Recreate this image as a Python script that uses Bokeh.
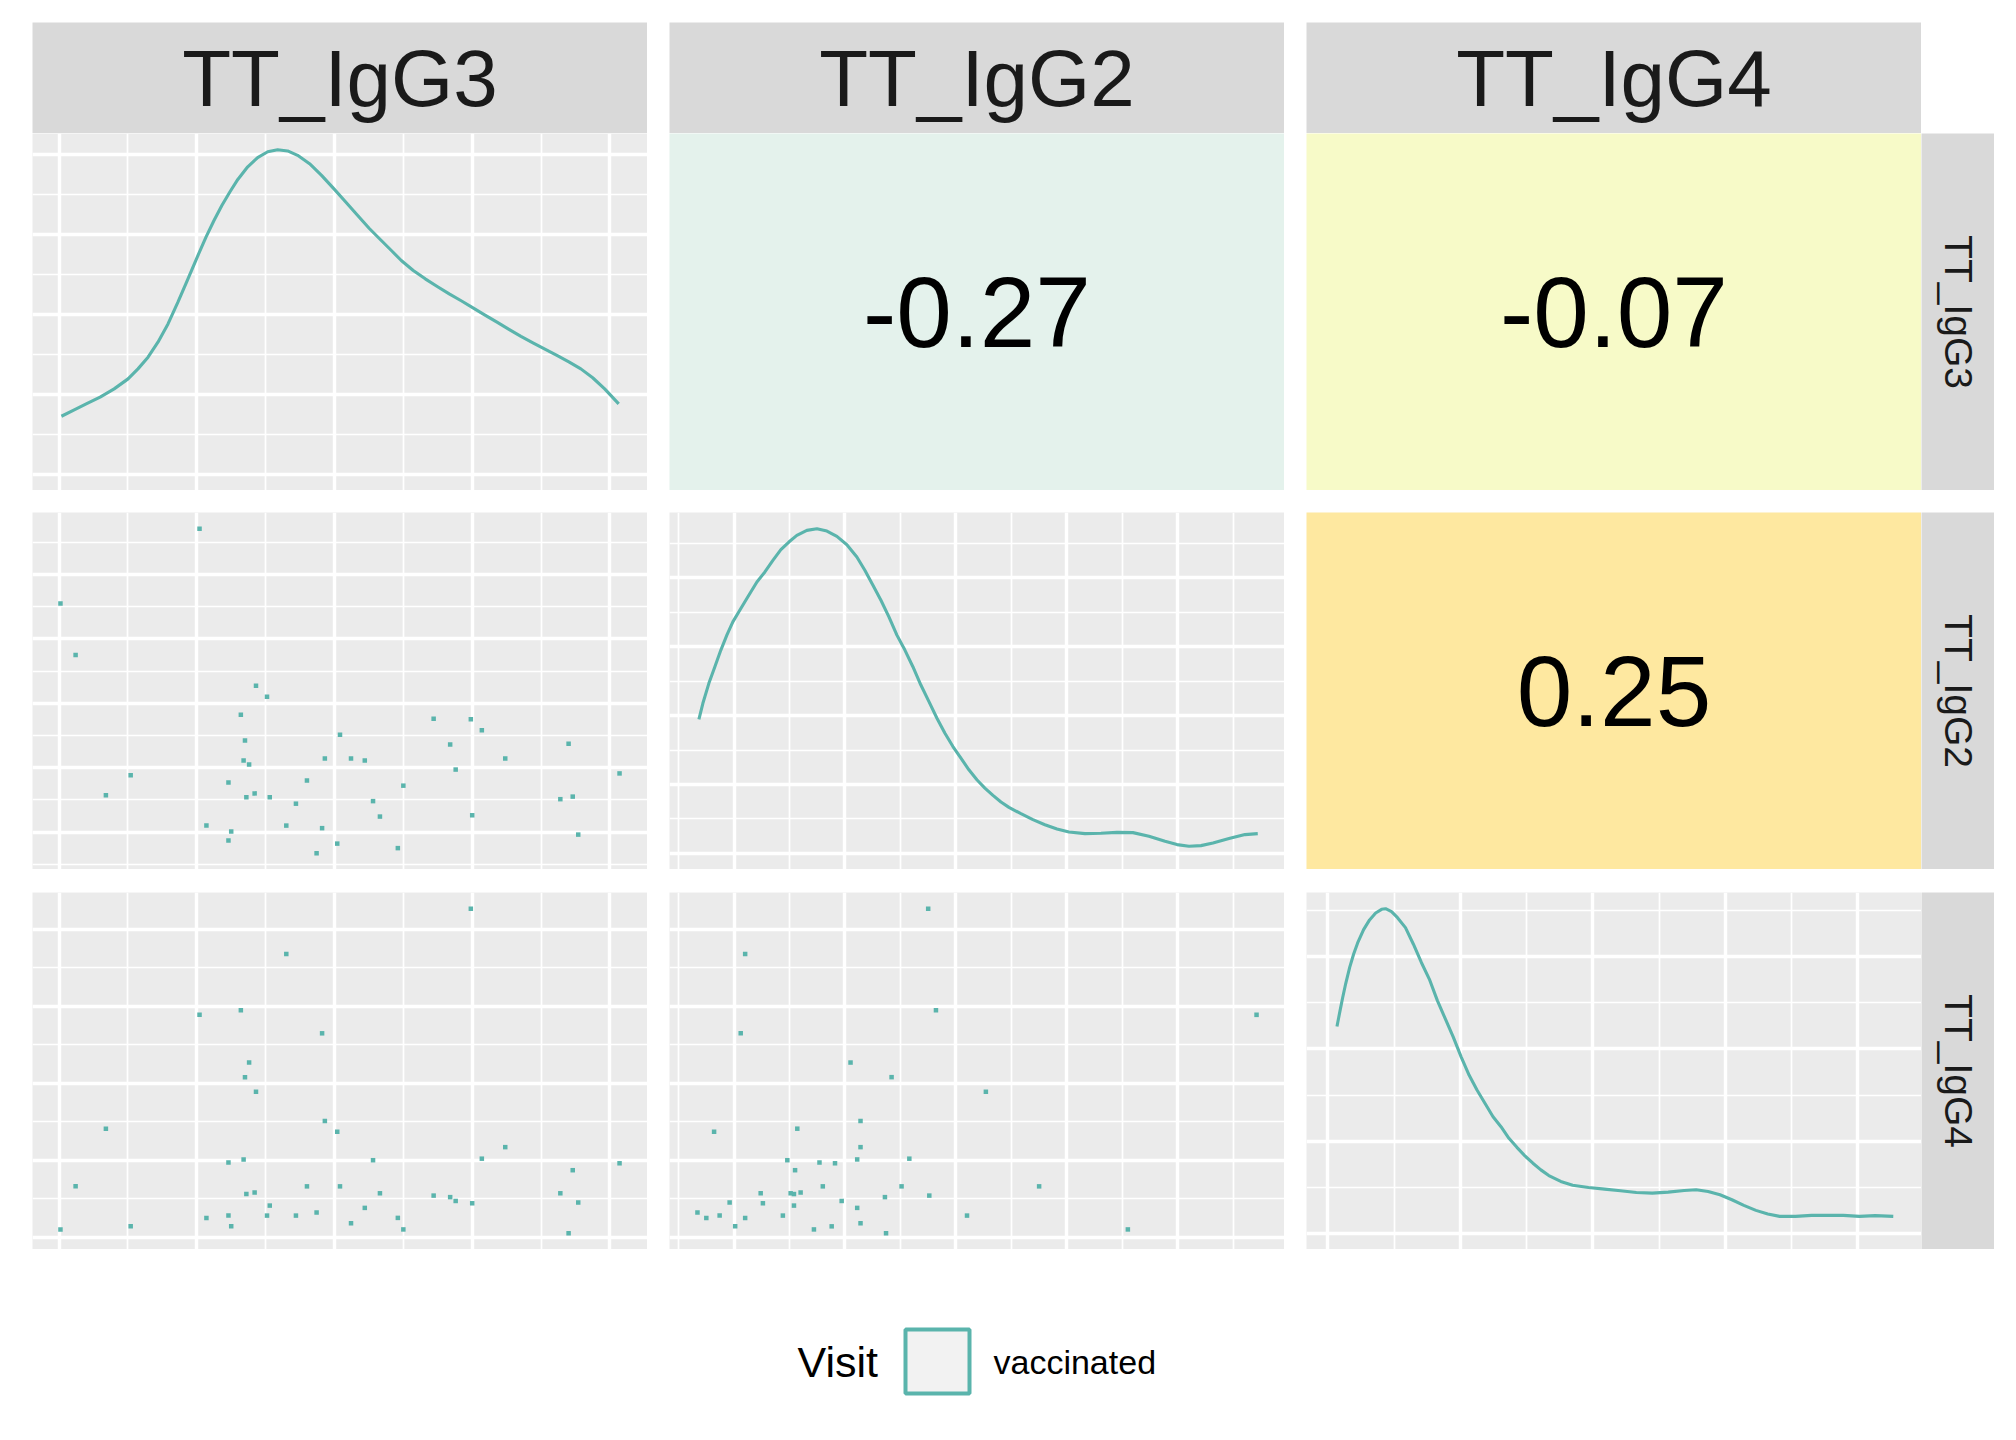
import math
from bokeh.plotting import figure
from bokeh.layouts import column, row
from bokeh.models import Spacer, Range1d, FixedTicker, ColumnDataSource
from bokeh.core.properties import value
from bokeh.embed import file_html
from bokeh.resources import INLINE

# ---------------- data ----------------
variables = ["TT_IgG3", "TT_IgG2", "TT_IgG4"]
legend_title = "Visit"
group_label = "vaccinated"

tt_igg3 = [2.02, 1.01, 1.12, 2.43, 2.51, 2.32, 3.72, 3.99, 4.07, 3.04, 2.35,
           3.84, 4.70, 2.93, 3.12, 3.22, 4.24, 2.34, 2.38, 3.88, 1.52, 5.07,
           2.23, 2.80, 3.50, 1.34, 2.42, 2.36, 2.53, 4.64, 4.73, 2.72, 3.28,
           3.33, 4.00, 2.07, 2.65, 2.25, 2.91, 4.77, 2.23, 3.02, 3.46, 2.87]
tt_igg2 = [5.71, 4.55, 3.75, 3.27, 3.10, 2.82, 2.76, 2.75, 2.58, 2.51, 2.42,
           2.36, 2.37, 2.14, 2.14, 2.11, 2.14, 2.11, 2.05, 1.97, 1.88, 1.91,
           1.77, 1.80, 1.72, 1.57, 1.60, 1.54, 1.54, 1.51, 1.55, 1.44, 1.48,
           1.24, 1.26, 1.10, 1.10, 1.01, 1.06, 0.96, 0.87, 0.82, 0.75, 0.67]
tt_igg4 = [3.89, 1.10, 1.66, 2.89, 1.28, 3.95, 1.54, 5.27, 2.02, 1.66, 3.08,
           1.52, 1.05, 2.51, 1.18, 1.38, 2.17, 2.01, 3.27, 1.47, 1.14, 1.96,
           1.97, 1.66, 1.10, 2.41, 1.58, 1.56, 1.41, 1.57, 1.87, 1.28, 2.00,
           1.57, 1.44, 1.25, 4.68, 1.14, 3.65, 1.45, 1.28, 2.37, 1.25, 1.32]

# density curves on the diagonal
dens_igg3_x = [1.017, 1.110, 1.197, 1.298, 1.400, 1.501, 1.573, 1.646, 1.718, 1.791,
               1.863, 1.936, 2.008, 2.066, 2.124, 2.182, 2.240, 2.298, 2.370, 2.442,
               2.515, 2.587, 2.660, 2.732, 2.819, 2.906, 2.993, 3.080, 3.167, 3.253,
               3.340, 3.413, 3.485, 3.572, 3.659, 3.746, 3.833, 3.920, 4.006, 4.093,
               4.180, 4.267, 4.354, 4.441, 4.528, 4.615, 4.702, 4.789, 4.875, 4.962, 5.064]
dens_igg3_y = [0.0725, 0.0804, 0.0879, 0.0963, 0.1067, 0.1192, 0.1317, 0.1463, 0.1650, 0.1879,
               0.2150, 0.2442, 0.2733, 0.2959, 0.3168, 0.3359, 0.3527, 0.3684, 0.3842, 0.3957,
               0.4030, 0.4055, 0.4040, 0.3985, 0.3880, 0.3735, 0.3572, 0.3404, 0.3236, 0.3071,
               0.2921, 0.2796, 0.2671, 0.2546, 0.2442, 0.2346, 0.2254, 0.2168, 0.2079, 0.1989,
               0.1900, 0.1810, 0.1723, 0.1642, 0.1565, 0.1485, 0.1405, 0.1317, 0.1206, 0.1067, 0.0879]

dens_igg2_x = [0.683, 0.719, 0.773, 0.827, 0.881, 0.935, 0.989, 1.061, 1.133, 1.206,
               1.278, 1.350, 1.422, 1.494, 1.566, 1.656, 1.747, 1.837, 1.927, 2.017,
               2.107, 2.179, 2.252, 2.324, 2.396, 2.468, 2.540, 2.612, 2.684, 2.757,
               2.829, 2.901, 2.973, 3.045, 3.117, 3.189, 3.261, 3.334, 3.406, 3.478,
               3.586, 3.694, 3.802, 3.911, 4.019, 4.163, 4.308, 4.452, 4.596, 4.740,
               4.885, 4.993, 5.101, 5.209, 5.317, 5.462, 5.606, 5.721]
dens_igg2_y = [0.1947, 0.2179, 0.2469, 0.2710, 0.2952, 0.3169, 0.3362, 0.3556, 0.3749, 0.3942,
               0.4087, 0.4256, 0.4411, 0.4522, 0.4618, 0.4691, 0.4715, 0.4681, 0.4604, 0.4483,
               0.4304, 0.4111, 0.3894, 0.3676, 0.3435, 0.3169, 0.2952, 0.2710, 0.2444, 0.2203,
               0.1961, 0.1744, 0.1551, 0.1382, 0.1213, 0.1068, 0.0947, 0.0841, 0.0744, 0.0667,
               0.0575, 0.0488, 0.0415, 0.0353, 0.0309, 0.0285, 0.0290, 0.0304, 0.0300, 0.0246,
               0.0174, 0.0126, 0.0101, 0.0111, 0.0150, 0.0213, 0.0271, 0.0285]

dens_igg4_x = [1.069, 1.090, 1.111, 1.135, 1.165, 1.195, 1.225, 1.270, 1.315, 1.361,
               1.406, 1.436, 1.481, 1.526, 1.586, 1.646, 1.706, 1.766, 1.827, 1.887,
               1.947, 2.007, 2.067, 2.127, 2.187, 2.247, 2.307, 2.367, 2.427, 2.488,
               2.548, 2.608, 2.668, 2.758, 2.848, 2.968, 3.089, 3.209, 3.329, 3.449,
               3.569, 3.690, 3.780, 3.870, 3.960, 4.050, 4.140, 4.231, 4.321, 4.411,
               4.531, 4.651, 4.772, 4.892, 5.012, 5.132, 5.268]
dens_igg4_y = [0.4486, 0.4800, 0.5100, 0.5420, 0.5770, 0.6060, 0.6300, 0.6590, 0.6800, 0.6950,
               0.7030, 0.7043, 0.6978, 0.6849, 0.6633, 0.6273, 0.5877, 0.5517, 0.5049, 0.4652,
               0.4256, 0.3824, 0.3428, 0.3104, 0.2816, 0.2528, 0.2312, 0.2060, 0.1865, 0.1678,
               0.1520, 0.1376, 0.1253, 0.1124, 0.1044, 0.0994, 0.0958, 0.0922, 0.0886, 0.0871,
               0.0893, 0.0929, 0.0944, 0.0907, 0.0835, 0.0727, 0.0605, 0.0497, 0.0418, 0.0367,
               0.0367, 0.0389, 0.0389, 0.0389, 0.0367, 0.0382, 0.0367]

# correlations shown in the upper panels
cor_igg3_igg2 = -0.27
cor_igg3_igg4 = -0.07
cor_igg2_igg4 = 0.25

# grid breaks
value_major = [1, 2, 3, 4, 5]
value_minor = [0.5, 1.5, 2.5, 3.5, 4.5, 5.5]
dens_major_01 = [0.0, 0.1, 0.2, 0.3, 0.4]
dens_minor_01 = [0.05, 0.15, 0.25, 0.35, 0.45]
dens_major_02 = [0.0, 0.2, 0.4, 0.6]
dens_minor_02 = [0.1, 0.3, 0.5, 0.7]

# ---------------- styling ----------------
PANEL_W, PANEL_H = 615, 357
GAP_X = 22
STRIP_H, STRIP_W = 111, 73
FONT = "Liberation Sans"
TEAL = "#5AB4AC"
PANEL_BG = "#EBEBEB"
STRIP_BG = "#D9D9D9"
COR_BG = {-0.27: "#E4F2EC", -0.07: "#F7FAC8", 0.25: "#FEE8A0"}


def padded(vals, include_zero=False):
    lo, hi = min(vals), max(vals)
    if include_zero:
        lo = min(lo, 0.0)
    pad = 0.05 * (hi - lo)
    return Range1d(lo - pad, hi + pad)


def base_fig(xr, yr, bg, w=PANEL_W, h=PANEL_H):
    p = figure(width=w, height=h, x_range=xr, y_range=yr, tools="",
               output_backend="svg", toolbar_location=None,
               x_axis_location=None, y_axis_location=None, min_border=0,
               background_fill_color=bg, border_fill_color="white",
               outline_line_color=None)
    p.xgrid.grid_line_color = None
    p.ygrid.grid_line_color = None
    return p


def style_grid(grid, major, minor):
    grid.ticker = FixedTicker(ticks=major, minor_ticks=minor)
    grid.grid_line_color = "white"
    grid.grid_line_width = 3.4
    grid.minor_grid_line_color = "white"
    grid.minor_grid_line_width = 1.7


def scatter_panel(xv, yv):
    p = base_fig(padded(xv), padded(yv), PANEL_BG)
    style_grid(p.xgrid[0], value_major, value_minor)
    style_grid(p.ygrid[0], value_major, value_minor)
    src = ColumnDataSource(dict(x=xv, y=yv))
    p.scatter("x", "y", source=src, marker="square", size=4.5,
              fill_color=TEAL, line_color=None)
    return p


def density_panel(var_vals, dx, dy, ymajor, yminor):
    p = base_fig(padded(var_vals), padded(dy, include_zero=True), PANEL_BG)
    style_grid(p.xgrid[0], value_major, value_minor)
    style_grid(p.ygrid[0], ymajor, yminor)
    src = ColumnDataSource(dict(x=dx, y=dy))
    p.line("x", "y", source=src, line_color=TEAL, line_width=3.1,
           line_join="round")
    return p


def cor_panel(r):
    p = base_fig(Range1d(0, 1), Range1d(0, 1), COR_BG[r])
    p.text(x=[0.5], y=[0.5], text=["{:.2f}".format(r)],
           text_font=value(FONT), text_font_size=value("100px"),
           text_align="center", text_baseline="middle", text_color="black")
    return p


def top_strip(label):
    p = base_fig(Range1d(0, 1), Range1d(0, 1), STRIP_BG, w=PANEL_W, h=STRIP_H)
    p.text(x=[0.5], y=[0.5], text=[label], text_font=value(FONT),
           text_font_size=value("80px"), text_align="center",
           text_baseline="middle", text_color="#1A1A1A")
    return p


def right_strip(label):
    p = base_fig(Range1d(0, 1), Range1d(0, 1), STRIP_BG, w=STRIP_W, h=PANEL_H)
    p.text(x=[0.5], y=[0.5], text=[label], angle=-math.pi / 2,
           text_font=value(FONT), text_font_size=value("39px"),
           text_align="center", text_baseline="middle", text_color="#1A1A1A")
    return p


p11 = density_panel(tt_igg3, dens_igg3_x, dens_igg3_y, dens_major_01, dens_minor_01)
p12 = cor_panel(cor_igg3_igg2)
p13 = cor_panel(cor_igg3_igg4)
p21 = scatter_panel(tt_igg3, tt_igg2)
p22 = density_panel(tt_igg2, dens_igg2_x, dens_igg2_y, dens_major_01, dens_minor_01)
p23 = cor_panel(cor_igg2_igg4)
p31 = scatter_panel(tt_igg3, tt_igg4)
p32 = scatter_panel(tt_igg2, tt_igg4)
p33 = density_panel(tt_igg4, dens_igg4_x, dens_igg4_y, dens_major_02, dens_minor_02)

LEFT = 32
TOP = 22
strip_row = row(Spacer(width=LEFT, height=STRIP_H), top_strip(variables[0]),
                Spacer(width=GAP_X, height=STRIP_H), top_strip(variables[1]),
                Spacer(width=GAP_X, height=STRIP_H), top_strip(variables[2]))


def panel_row(a, b, c, label):
    return row(Spacer(width=LEFT, height=PANEL_H), a,
               Spacer(width=GAP_X, height=PANEL_H), b,
               Spacer(width=GAP_X, height=PANEL_H), c, right_strip(label))


# legend (coordinates of this strip are page pixels)
LEG_W, LEG_H = 1994, 170
LEG_TOP = TOP + STRIP_H + 3 * PANEL_H + 22 + 23
leg = figure(width=LEG_W, height=LEG_H, x_range=Range1d(0, LEG_W),
             y_range=Range1d(LEG_TOP + LEG_H, LEG_TOP), tools="",
             output_backend="svg", toolbar_location=None,
             x_axis_location=None, y_axis_location=None, min_border=0,
             background_fill_color="white", border_fill_color="white",
             outline_line_color=None)
leg.xgrid.grid_line_color = None
leg.ygrid.grid_line_color = None
leg.text(x=[797], y=[1361], text=[legend_title], text_font=value(FONT),
         text_font_size=value("43px"), text_align="left",
         text_baseline="middle", text_color="black")
leg.rect(x=[937], y=[1361], width=64, height=64, fill_color="#F2F2F2",
         line_color=TEAL, line_width=4)
leg.text(x=[993], y=[1361], text=[group_label], text_font=value(FONT),
         text_font_size=value("34px"), text_align="left",
         text_baseline="middle", text_color="black")

layout = column(
    Spacer(width=LEFT, height=TOP),
    strip_row,
    panel_row(p11, p12, p13, variables[0]),
    Spacer(width=LEFT, height=22),
    panel_row(p21, p22, p23, variables[1]),
    Spacer(width=LEFT, height=23),
    panel_row(p31, p32, p33, variables[2]),
    leg,
)

with open("out.html", "w") as f:
    f.write(file_html(layout, INLINE))
